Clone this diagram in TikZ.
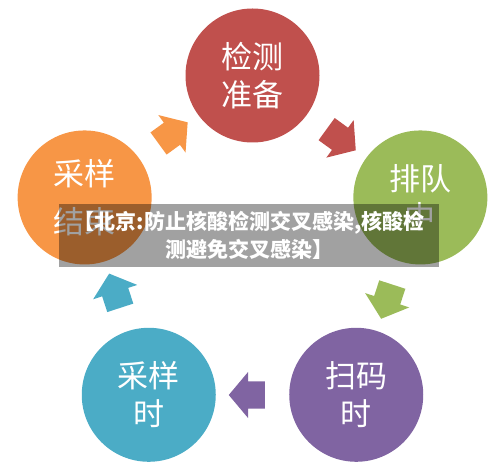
\documentclass[tikz,border=0pt]{standalone}
\usepackage{fontspec}
\newfontfamily\cjk{Noto Sans CJK SC}
\usetikzlibrary{shapes.arrows}

\definecolor{prepred}{HTML}{C0504D}
\definecolor{queuegreen}{HTML}{9BBB59}
\definecolor{scanpurple}{HTML}{8064A2}
\definecolor{swabteal}{HTML}{4BACC6}
\definecolor{doneorange}{HTML}{F79646}

\begin{document}
\begin{tikzpicture}[x=1pt,y=1pt,
    stepcircle/.style={circle, minimum size=134pt, inner sep=0pt, text=white,
        font=\cjk\fontsize{31}{38}\selectfont, align=center},
    cyclearrow/.style={single arrow, minimum height=36pt, inner xsep=0pt, inner ysep=13.5pt,
        single arrow head extend=9.5pt, single arrow tip angle=100},
    banner/.style={fill=black, fill opacity=0.37, text opacity=1, text=white,
        minimum width=380pt, minimum height=63pt, inner sep=0pt, align=center,
        font=\cjk\bfseries\fontsize{21}{28}\selectfont}]
    \useasboundingbox (0,0) rectangle (500,471);
    \coordinate (c) at (252.5,219);

    % Cinco pasos alrededor del centro.
    \node[stepcircle, fill=prepred] (prep) at ([shift={(90:176.5)}]c) {检测\\准备};
    \node[stepcircle, fill=queuegreen] (queue) at ([shift={(18:176.5)}]c) {排队\\中};
    \node[stepcircle, fill=scanpurple] (scan) at ([shift={(-54:176.5)}]c) {扫码\\时};
    \node[stepcircle, fill=swabteal] (swab) at ([shift={(-126:176.5)}]c) {采样\\时};
    \node[stepcircle, fill=doneorange] (done) at ([shift={(162:176.5)}]c) {采样\\[10pt]结束};

    % Flechas entre pasos, en sentido horario.
    \node[cyclearrow, fill=prepred, rotate=-36] (prep-queue) at ([shift={(54:143)}]c) {};
    \node[cyclearrow, fill=queuegreen, rotate=-108] (queue-scan) at ([shift={(-18:143)}]c) {};
    \node[cyclearrow, fill=scanpurple, rotate=180] (scan-swab) at ([shift={(-90:143)}]c) {};
    \node[cyclearrow, fill=swabteal, rotate=108] (swab-done) at ([shift={(-162:143)}]c) {};
    \node[cyclearrow, fill=doneorange, rotate=36] (done-prep) at ([shift={(126:143)}]c) {};

    % Franja del titular.
    \node[banner] (title) at (249,235.5) {【北京:防止核酸检测交叉感染,核酸检\\测避免交叉感染】};
\end{tikzpicture}
\end{document}
